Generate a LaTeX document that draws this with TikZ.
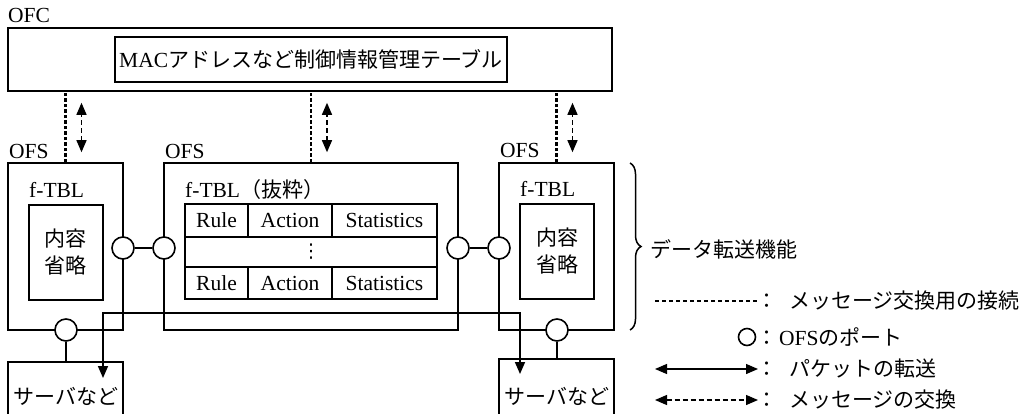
\documentclass[tikz,border=0pt]{standalone}
\usepackage{fontspec}
\setmainfont{Liberation Serif}
\newfontfamily\jpfont{Noto Sans CJK JP}
\newfontfamily\symfnt{DejaVu Sans}
\usetikzlibrary{arrows.meta,decorations.pathreplacing,calc}
\newcommand\JP[1]{{\jpfont\fontsize{21}{25}\selectfont #1}}
\begin{document}
\begin{tikzpicture}[x=1pt,y=-1pt, font=\fontsize{21.5}{25}\selectfont,
  box/.style={draw, line width=1.6pt, inner sep=0pt},
  port/.style={draw, circle, fill=white, line width=1.6pt, minimum size=22pt, inner sep=0pt},
  link/.style={line width=1.6pt},
  ctrl/.style={line width=2.6pt, dash pattern=on 3.5pt off 2pt},
  msg/.style={line width=1.3pt, dash pattern=on 5pt off 3pt, {Triangle[length=12pt,width=10pt]}-{Triangle[length=12pt,width=10pt]}},
  pkt/.style={line width=1.6pt, {Triangle[length=12pt,width=10pt]}-{Triangle[length=12pt,width=10pt]}},
  lbl/.style={inner sep=0pt, anchor=base west},
  txt/.style={inner sep=0pt},
]
\useasboundingbox (0,0) rectangle (1029,413);

% OFC
\node[lbl] (ofclbl) at (8,22) {OFC};
\node[box, minimum width=604pt, minimum height=63pt] (ofc) at (310,59.5) {};
\node[box, minimum width=392pt, minimum height=45pt] (mac) at (311,59.5) {MAC\JP{アドレスなど制御情報管理テーブル}};

% OFS boxes
\node[box, minimum width=115pt, minimum height=167pt] (ofsL) at (65.5,246.5) {};
\node[box, minimum width=294pt, minimum height=167pt] (ofsM) at (311,246.5) {};
\node[box, minimum width=115pt, minimum height=167pt] (ofsR) at (556.5,246.5) {};
\node[lbl] (lblL) at (9,158) {OFS};
\node[lbl] (lblM) at (165,158) {OFS};
\node[lbl] (lblR) at (500,157) {OFS};

% f-TBL labels
\node[lbl] (tblL) at (29,197) {f-TBL};
\node[lbl] (tblM) at (185,197) {f-TBL\JP{（抜粋）}};
\node[lbl] (tblR) at (520,196) {f-TBL};

% inner boxes
\node[box, minimum width=74pt, minimum height=95pt, align=center] (inL) at (66,252.5)
  {\JP{内容}\\[2pt]\JP{省略}};
\node[box, minimum width=74pt, minimum height=95pt, align=center] (inR) at (557,251.5)
  {\JP{内容}\\[2pt]\JP{省略}};

% table
\node[box, minimum width=63pt, minimum height=33pt] (r1a) at (216.5,220.5) {Rule};
\node[box, minimum width=84pt, minimum height=33pt] (r1b) at (290,220.5) {Action};
\node[box, minimum width=105pt, minimum height=33pt] (r1c) at (384.5,220.5) {Statistics};
\node[box, minimum width=252pt, minimum height=30pt, font=\symfnt\fontsize{19}{20}\selectfont] (r2) at (311,252) {⋮};
\node[box, minimum width=63pt, minimum height=32pt] (r3a) at (216.5,283) {Rule};
\node[box, minimum width=84pt, minimum height=32pt] (r3b) at (290,283) {Action};
\node[box, minimum width=105pt, minimum height=32pt] (r3c) at (384.5,283) {Statistics};

% servers
\node[box, minimum width=115pt, minimum height=53pt] (srvL) at (65.5,388.5) {};
\node[box, minimum width=115pt, minimum height=56pt] (srvR) at (556.5,387) {};
\node[txt] (srvLt) at (66,396) {\JP{サーバなど}};
\node[txt] (srvRt) at (557,396) {\JP{サーバなど}};

% packet path
\coordinate (tL) at (103,378);
\coordinate (tR) at (520,374);
\draw[pkt] (tL) -- (103,313) -- (520,313) -- (tR);

% ports
\node[port] (pL) at (123,248) {};
\node[port] (pM1) at (164,248) {};
\node[port] (pM2) at (458,248) {};
\node[port] (pR) at (499,248) {};
\node[port] (pLb) at (66,330) {};
\node[port] (pRb) at (557,330) {};
\draw[link] (pL) -- (pM1);
\draw[link] (pM2) -- (pR);
\draw[link] (pLb.south) -- (pLb.south |- srvL.north);
\draw[link] (pRb.south) -- (pRb.south |- srvR.north);

% control connections
\foreach \o in {ofsL,ofsM,ofsR}{
  \draw[ctrl] (\o.north) -- (\o.north |- ofc.south);
  \draw[msg] ($(\o.north)+(16,-10)$) -- ($(\o.north |- ofc.south)+(16,11)$);
}

% brace
\coordinate (bT) at (630,163);
\coordinate (bB) at (630,330);
\draw[decorate, decoration={brace, amplitude=11pt}, line width=1.5pt] (bT) -- (bB);
\node[txt, anchor=west] (dtf) at (650,249) {\JP{データ転送機能}};

% legend
\node[txt, anchor=west] (lg1) at (756,301) {\JP{：}\hspace{12pt}\JP{メッセージ交換用の接続}};
\node[txt, anchor=west] (lg2) at (756,337) {\JP{：}\hspace{2pt}OFS\JP{のポート}};
\node[txt, anchor=west] (lg3) at (756,369) {\JP{：}\hspace{12pt}\JP{パケットの転送}};
\node[txt, anchor=west] (lg4) at (756,400) {\JP{：}\hspace{12pt}\JP{メッセージの交換}};
\coordinate (a1) at (655,301); \coordinate (b1) at (758,301);
\draw[ctrl, dash pattern=on 4pt off 3pt] (a1) -- (b1);
\node[port, minimum size=17pt] (lgport) at (747,337) {};
\coordinate (a3) at (655,369); \coordinate (b3) at (758,369);
\draw[pkt, line width=1.3pt] (a3) -- (b3);
\coordinate (a4) at (655,400); \coordinate (b4) at (758,400);
\draw[msg] (a4) -- (b4);
\end{tikzpicture}
\end{document}
